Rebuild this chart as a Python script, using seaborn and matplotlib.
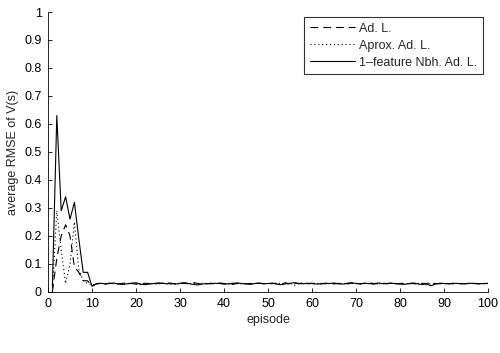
import numpy as np
import pandas as pd
import seaborn as sns
import matplotlib
matplotlib.use('Agg')
import matplotlib.pyplot as plt

episodes = list(range(1, 101))

adl_head = [0.00, 0.12, 0.20, 0.24, 0.20, 0.09, 0.07, 0.04, 0.04, 0.02]
adl_tail = [
    0.029, 0.030, 0.028, 0.031, 0.030, 0.029, 0.031, 0.032, 0.030, 0.028,
    0.029, 0.031, 0.030, 0.028, 0.030, 0.031, 0.033, 0.031, 0.029, 0.030,
    0.031, 0.029, 0.034, 0.030, 0.028, 0.029, 0.031, 0.030, 0.032, 0.030,
    0.029, 0.027, 0.030, 0.031, 0.029, 0.030, 0.032, 0.031, 0.030, 0.029,
    0.031, 0.030, 0.028, 0.033, 0.027, 0.031, 0.030, 0.032, 0.029, 0.031,
    0.030, 0.029, 0.030, 0.031, 0.029, 0.030, 0.032, 0.029, 0.031, 0.030,
    0.029, 0.031, 0.033, 0.030, 0.029, 0.031, 0.030, 0.032, 0.029, 0.030,
    0.031, 0.029, 0.030, 0.028, 0.031, 0.030, 0.033, 0.030, 0.029, 0.031,
    0.030, 0.029, 0.031, 0.030, 0.029, 0.031, 0.030, 0.029, 0.030, 0.031,
]

aprox_head = [0.00, 0.29, 0.15, 0.03, 0.10, 0.25, 0.08, 0.04, 0.03, 0.025]
aprox_tail = [
    0.028, 0.030, 0.029, 0.031, 0.029, 0.030, 0.028, 0.030, 0.031, 0.029,
    0.030, 0.029, 0.031, 0.030, 0.029, 0.031, 0.030, 0.028, 0.030, 0.029,
    0.031, 0.030, 0.029, 0.030, 0.031, 0.029, 0.030, 0.029, 0.031, 0.030,
    0.028, 0.030, 0.031, 0.029, 0.030, 0.029, 0.030, 0.031, 0.029, 0.030,
    0.029, 0.031, 0.030, 0.029, 0.030, 0.024, 0.029, 0.031, 0.030, 0.029,
    0.030, 0.031, 0.029, 0.030, 0.029, 0.031, 0.030, 0.029, 0.030, 0.031,
    0.029, 0.030, 0.029, 0.031, 0.030, 0.029, 0.030, 0.031, 0.029, 0.030,
    0.029, 0.030, 0.031, 0.029, 0.030, 0.025, 0.030, 0.029, 0.031, 0.030,
    0.029, 0.030, 0.031, 0.029, 0.030, 0.029, 0.031, 0.030, 0.029, 0.030,
]

nbh_head = [0.02, 0.63, 0.29, 0.34, 0.26, 0.32, 0.19, 0.07, 0.07, 0.02]
nbh_tail = [
    0.030, 0.031, 0.029, 0.030, 0.032, 0.028, 0.027, 0.029, 0.031, 0.033,
    0.027, 0.026, 0.028, 0.030, 0.032, 0.031, 0.029, 0.030, 0.028, 0.031,
    0.033, 0.030, 0.027, 0.025, 0.028, 0.030, 0.029, 0.031, 0.030, 0.028,
    0.029, 0.031, 0.032, 0.030, 0.029, 0.027, 0.030, 0.031, 0.029, 0.030,
    0.031, 0.028, 0.026, 0.029, 0.031, 0.033, 0.030, 0.029, 0.031, 0.030,
    0.028, 0.029, 0.031, 0.030, 0.032, 0.029, 0.028, 0.031, 0.033, 0.030,
    0.029, 0.031, 0.030, 0.028, 0.032, 0.030, 0.029, 0.031, 0.030, 0.028,
    0.027, 0.030, 0.032, 0.029, 0.026, 0.029, 0.022, 0.028, 0.031, 0.030,
    0.029, 0.031, 0.030, 0.029, 0.030, 0.031, 0.030, 0.029, 0.030, 0.030,
]

labels = ['Ad. L.', 'Aprox. Ad. L.', '1\u2013feature Nbh. Ad. L.']
styles = [(0, (7, 4.5)), (0, (1, 2.5)), '-']

sns.set_theme(style='ticks')
plt.rcParams['font.family'] = ['Liberation Sans', 'DejaVu Sans']
plt.rcParams['xtick.direction'] = 'in'
plt.rcParams['ytick.direction'] = 'in'

fig = plt.figure(figsize=(5.0, 3.53), dpi=100)
ax = fig.add_axes([0.096, 0.173, 0.88, 0.793])

series = [adl_head + adl_tail, aprox_head + aprox_tail, nbh_head + nbh_tail]
for vals, lab, ls in zip(series, labels, styles):
    sns.lineplot(x=episodes, y=vals, ax=ax, color='black', linewidth=0.8,
                 linestyle=ls, label=lab)

ax.set_xlim(0, 100)
ax.set_ylim(0, 1)
ax.set_xticks(range(0, 101, 10))
ax.set_yticks(np.arange(0, 1.01, 0.1))
ax.set_yticklabels(['0', '0.1', '0.2', '0.3', '0.4', '0.5', '0.6', '0.7', '0.8', '0.9', '1'])
ax.tick_params(labelsize=9, length=3, width=0.6, colors='black', pad=4.5)
ax.set_xlabel('episode', fontsize=9, labelpad=3)
ax.set_ylabel('average RMSE of V(s)', fontsize=9, labelpad=4)
sns.despine(ax=ax)
for s in ['left', 'bottom']:
    ax.spines[s].set_linewidth(0.6)
    ax.spines[s].set_color('black')

leg = ax.legend(loc='upper right', fontsize=9, frameon=True, fancybox=False,
                handlelength=3.6, handletextpad=0.35, borderpad=0.45,
                labelspacing=0.4, borderaxespad=0.4)
leg.get_frame().set_edgecolor('black')
leg.get_frame().set_linewidth(0.8)

fig.savefig('out.png', dpi=100)
